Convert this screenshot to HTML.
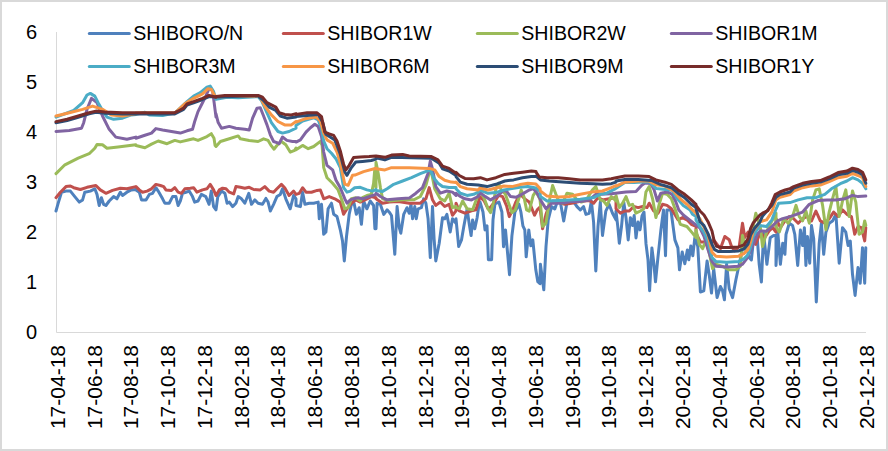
<!DOCTYPE html><html><head><meta charset="utf-8"><style>html,body{margin:0;padding:0;background:#fff;}svg{display:block;font-family:"Liberation Sans",sans-serif;}</style></head><body>
<svg width="888" height="451" viewBox="0 0 888 451">
<rect x="0" y="0" width="888" height="451" fill="#fff"/>
<rect x="1" y="1" width="886" height="449" fill="none" stroke="#d9d9d9" stroke-width="2"/>
<path d="M56.5 32V332.5H866" fill="none" stroke="#d9d9d9" stroke-width="1"/>
<text x="37" y="339.0" font-size="20" text-anchor="end" fill="#000">0</text>
<text x="37" y="289.0" font-size="20" text-anchor="end" fill="#000">1</text>
<text x="37" y="239.0" font-size="20" text-anchor="end" fill="#000">2</text>
<text x="37" y="189.0" font-size="20" text-anchor="end" fill="#000">3</text>
<text x="37" y="139.0" font-size="20" text-anchor="end" fill="#000">4</text>
<text x="37" y="89.0" font-size="20" text-anchor="end" fill="#000">5</text>
<text x="37" y="39.0" font-size="20" text-anchor="end" fill="#000">6</text>
<text transform="translate(64.8,345) rotate(-90)" font-size="21" text-anchor="end" fill="#000">17-04-18</text>
<text transform="translate(101.6,345) rotate(-90)" font-size="21" text-anchor="end" fill="#000">17-06-18</text>
<text transform="translate(138.3,345) rotate(-90)" font-size="21" text-anchor="end" fill="#000">17-08-18</text>
<text transform="translate(175.1,345) rotate(-90)" font-size="21" text-anchor="end" fill="#000">17-10-18</text>
<text transform="translate(211.9,345) rotate(-90)" font-size="21" text-anchor="end" fill="#000">17-12-18</text>
<text transform="translate(248.7,345) rotate(-90)" font-size="21" text-anchor="end" fill="#000">18-02-18</text>
<text transform="translate(285.4,345) rotate(-90)" font-size="21" text-anchor="end" fill="#000">18-04-18</text>
<text transform="translate(322.2,345) rotate(-90)" font-size="21" text-anchor="end" fill="#000">18-06-18</text>
<text transform="translate(359.0,345) rotate(-90)" font-size="21" text-anchor="end" fill="#000">18-08-18</text>
<text transform="translate(395.8,345) rotate(-90)" font-size="21" text-anchor="end" fill="#000">18-10-18</text>
<text transform="translate(432.5,345) rotate(-90)" font-size="21" text-anchor="end" fill="#000">18-12-18</text>
<text transform="translate(469.3,345) rotate(-90)" font-size="21" text-anchor="end" fill="#000">19-02-18</text>
<text transform="translate(506.1,345) rotate(-90)" font-size="21" text-anchor="end" fill="#000">19-04-18</text>
<text transform="translate(542.8,345) rotate(-90)" font-size="21" text-anchor="end" fill="#000">19-06-18</text>
<text transform="translate(579.6,345) rotate(-90)" font-size="21" text-anchor="end" fill="#000">19-08-18</text>
<text transform="translate(616.4,345) rotate(-90)" font-size="21" text-anchor="end" fill="#000">19-10-18</text>
<text transform="translate(653.2,345) rotate(-90)" font-size="21" text-anchor="end" fill="#000">19-12-18</text>
<text transform="translate(689.9,345) rotate(-90)" font-size="21" text-anchor="end" fill="#000">20-02-18</text>
<text transform="translate(726.7,345) rotate(-90)" font-size="21" text-anchor="end" fill="#000">20-04-18</text>
<text transform="translate(763.5,345) rotate(-90)" font-size="21" text-anchor="end" fill="#000">20-06-18</text>
<text transform="translate(800.3,345) rotate(-90)" font-size="21" text-anchor="end" fill="#000">20-08-18</text>
<text transform="translate(837.0,345) rotate(-90)" font-size="21" text-anchor="end" fill="#000">20-10-18</text>
<text transform="translate(873.8,345) rotate(-90)" font-size="21" text-anchor="end" fill="#000">20-12-18</text>
<path d="M56.0 211.0 L58.2 203.2 L61.5 192.2 L66.0 191.1 L70.4 191.1 L74.8 196.6 L79.3 202.1 L82.6 199.9 L84.8 192.2 L90.3 191.1 L94.8 188.8 L97.0 194.4 L99.2 205.5 L101.4 197.7 L103.6 204.3 L105.9 205.5 L109.2 201.0 L113.6 196.6 L116.9 198.8 L120.3 192.2 L122.5 195.5 L126.9 192.2 L131.3 189.9 L135.8 189.5 L136.0 189.9 L139.3 192.2 L141.5 199.9 L146.0 199.9 L149.3 194.4 L152.6 193.3 L155.9 187.7 L158.2 191.1 L162.6 198.8 L164.8 203.2 L169.2 203.2 L172.6 196.6 L175.9 196.6 L178.1 205.5 L180.3 201.0 L182.5 193.3 L185.9 192.2 L189.2 191.1 L192.5 196.6 L194.7 202.1 L198.0 201.0 L201.4 194.4 L205.8 196.6 L209.1 204.3 L211.3 191.1 L213.6 206.6 L216.0 209.9 L216.0 209.9 L217.8 196.6 L221.5 191.1 L224.9 193.3 L227.1 203.2 L229.3 202.1 L232.6 206.6 L235.9 203.2 L238.2 196.6 L241.5 198.8 L244.8 203.2 L248.8 193.3 L251.5 204.3 L254.8 199.9 L258.1 203.2 L262.5 204.3 L265.9 198.4 L268.1 202.1 L270.3 211.0 L273.6 204.3 L276.9 196.6 L280.3 194.4 L282.5 188.8 L285.8 198.8 L290.2 208.8 L293.6 195.5 L296.0 198.8 L296.0 205.5 L300.4 206.6 L302.6 192.2 L304.9 204.3 L309.3 203.2 L313.7 203.2 L318.2 202.1 L319.3 218.8 L321.5 204.3 L323.7 234.3 L325.9 232.0 L328.1 208.8 L331.5 203.2 L333.7 214.3 L337.0 216.5 L340.3 229.8 L342.5 240.9 L344.3 260.9 L346.5 236.5 L349.2 214.3 L351.4 204.3 L354.1 203.2 L356.3 214.3 L359.2 207.7 L361.4 224.3 L363.6 201.0 L366.9 208.8 L370.2 201.0 L373.6 205.5 L374.9 228.7 L376.0 214.3 L376.0 228.8 L377.1 203.3 L380.4 204.4 L383.8 214.4 L387.1 209.9 L389.3 212.2 L391.5 215.5 L393.7 241.0 L394.8 254.3 L397.1 206.6 L399.3 227.7 L400.8 233.2 L403.7 214.4 L407.0 207.7 L409.2 213.3 L411.0 204.4 L412.6 218.8 L414.8 206.6 L416.3 218.8 L418.1 208.8 L421.4 207.7 L423.6 198.9 L425.9 203.3 L428.1 218.8 L430.3 257.6 L432.5 206.6 L434.1 238.8 L435.8 260.9 L439.2 243.2 L442.5 217.7 L444.7 218.8 L446.9 214.4 L450.2 232.1 L452.5 218.8 L456.0 223.2 L456.0 218.8 L458.7 246.5 L461.5 239.9 L463.8 226.6 L467.1 208.9 L469.3 224.4 L471.1 235.5 L472.6 219.9 L474.8 228.8 L477.1 217.7 L479.3 202.2 L480.0 202.0 L483.0 212.0 L485.0 229.9 L487.0 225.9 L488.4 259.8 L491.6 259.8 L493.0 219.9 L494.9 204.0 L498.9 202.0 L501.9 212.0 L503.5 246.8 L505.5 229.9 L509.5 274.7 L511.9 235.9 L514.9 212.0 L518.9 204.0 L520.9 212.0 L522.9 225.9 L524.8 229.9 L526.2 256.8 L528.8 229.9 L530.8 245.8 L532.8 239.9 L535.8 269.8 L537.8 281.7 L540.0 283.7 L540.4 264.3 L543.8 289.8 L546.0 246.5 L548.2 219.9 L551.5 206.6 L554.8 208.9 L557.1 202.2 L560.4 202.2 L563.7 221.1 L567.0 202.2 L571.5 202.2 L574.8 203.3 L577.0 206.6 L580.3 210.0 L583.6 206.6 L585.9 214.4 L589.2 213.3 L591.4 201.1 L593.6 222.2 L595.8 270.9 L598.0 226.6 L600.3 202.2 L602.5 235.5 L605.8 211.1 L609.1 204.4 L612.5 213.3 L616.0 219.9 L616.0 211.1 L617.8 226.6 L619.3 243.2 L621.5 226.6 L623.8 202.2 L626.0 217.7 L628.2 239.9 L630.4 217.7 L632.6 225.5 L634.2 215.5 L636.0 237.9 L638.0 222.0 L640.0 229.9 L642.0 216.0 L644.0 212.0 L646.0 243.9 L648.0 259.8 L649.6 290.7 L651.9 247.9 L653.9 263.8 L655.5 281.8 L657.9 257.8 L660.9 229.9 L663.5 210.0 L665.5 255.8 L666.9 210.0 L670.9 210.0 L674.9 239.9 L677.9 247.9 L679.5 269.8 L682.2 251.9 L684.8 263.8 L687.4 249.9 L688.8 259.8 L690.8 245.9 L692.8 255.8 L694.8 237.9 L696.0 239.9 L697.8 246.6 L700.4 292.0 L703.8 290.9 L707.1 261.0 L709.3 275.4 L711.5 293.1 L713.7 268.8 L717.1 297.6 L720.4 286.5 L722.6 290.9 L724.4 299.8 L726.6 264.3 L729.2 288.7 L732.6 297.6 L735.9 279.8 L739.2 264.3 L742.5 248.8 L745.9 244.4 L749.2 257.7 L751.4 259.9 L754.1 233.3 L756.9 233.3 L759.2 264.3 L761.4 282.0 L763.6 233.3 L766.9 264.3 L770.2 237.7 L773.6 235.5 L776.0 235.5 L776.0 265.4 L777.8 232.2 L780.4 264.3 L782.7 243.3 L784.9 254.3 L786.0 234.4 L789.3 223.3 L792.6 225.5 L794.8 234.4 L797.7 265.4 L800.4 230.0 L802.6 245.5 L804.4 227.7 L805.9 265.4 L807.5 236.6 L809.7 263.2 L811.5 225.5 L813.7 238.8 L816.3 302.0 L819.2 243.3 L821.4 223.3 L823.7 254.3 L825.9 232.2 L829.2 223.3 L832.5 221.1 L835.9 214.4 L839.2 263.2 L842.5 227.7 L845.8 232.2 L848.1 245.5 L850.3 241.0 L852.5 274.3 L855.1 295.4 L858.0 267.6 L860.2 283.2 L862.5 247.7 L864.7 283.2 L865.8 247.7" fill="none" stroke="#4F81BD" stroke-width="3" stroke-linejoin="round" stroke-linecap="round"/>
<path d="M56.0 197.7 L60.4 192.2 L66.0 186.6 L70.4 186.0 L73.7 187.7 L80.4 189.5 L87.0 187.3 L95.9 185.5 L100.3 189.9 L105.9 193.3 L112.5 190.4 L120.3 188.2 L126.9 188.8 L135.8 186.6 L136.0 186.6 L139.3 189.9 L142.6 192.2 L147.1 191.1 L151.5 188.8 L155.9 184.4 L160.4 185.5 L163.7 186.6 L165.9 189.9 L171.5 190.4 L174.8 187.7 L178.1 192.2 L181.4 193.3 L184.8 188.8 L190.3 188.2 L193.6 187.7 L196.9 192.2 L202.5 189.9 L206.9 188.8 L210.2 184.4 L213.6 189.9 L216.0 195.5 L216.0 195.5 L219.3 189.9 L222.6 188.2 L226.0 188.8 L229.3 192.2 L233.7 193.9 L235.9 186.6 L240.4 187.3 L244.8 188.2 L249.2 187.3 L253.7 189.5 L260.3 189.9 L264.8 186.6 L269.2 191.1 L273.6 192.2 L276.9 188.8 L281.4 184.4 L284.7 187.7 L289.1 195.5 L293.6 191.1 L296.0 194.4 L296.0 194.4 L299.3 193.3 L302.6 187.7 L306.0 192.2 L311.5 192.2 L317.1 190.4 L320.4 189.9 L323.7 198.8 L329.2 196.6 L334.8 198.8 L340.3 202.1 L343.6 214.3 L347.0 208.8 L351.4 203.2 L355.8 199.9 L360.3 202.1 L366.9 198.8 L371.3 196.6 L376.0 197.7 L376.0 198.7 L382.6 203.2 L389.3 202.0 L398.2 201.6 L409.2 203.2 L420.3 203.2 L425.9 198.7 L429.2 187.6 L432.5 199.8 L435.8 205.4 L440.3 202.0 L444.7 206.5 L449.1 204.3 L452.5 215.3 L456.0 210.9 L456.0 203.2 L459.3 210.9 L464.9 213.2 L471.5 210.9 L475.9 209.8 L480.0 196.6 L484.0 200.6 L488.0 208.6 L490.6 207.2 L494.6 201.9 L498.6 195.3 L502.6 196.6 L506.6 205.9 L509.3 216.6 L513.3 208.6 L515.9 201.9 L518.6 196.6 L521.2 195.3 L525.2 199.3 L529.2 201.9 L531.9 208.6 L534.5 215.2 L537.2 209.9 L540.0 207.2 L542.6 228.7 L546.0 214.3 L549.3 205.4 L552.6 201.0 L558.2 202.1 L564.8 204.3 L571.5 203.2 L580.3 201.4 L589.2 200.5 L593.6 203.2 L598.0 197.6 L602.5 199.9 L609.1 198.8 L616.0 197.6 L616.0 208.8 L620.4 213.2 L624.9 211.0 L629.3 211.0 L633.7 206.5 L638.2 207.6 L642.6 206.5 L647.0 207.6 L649.2 203.2 L653.7 211.0 L658.1 213.2 L662.5 204.3 L667.0 205.4 L671.4 208.8 L674.7 214.3 L678.0 219.8 L682.5 217.6 L686.9 219.8 L691.3 224.3 L696.0 226.5 L696.0 233.2 L700.4 242.0 L704.9 242.0 L709.3 248.7 L713.7 239.8 L717.1 244.3 L720.4 248.7 L724.8 236.5 L729.2 239.8 L731.5 246.5 L734.8 250.9 L739.2 246.5 L742.5 223.2 L744.8 237.6 L748.1 232.1 L751.4 239.8 L755.8 244.3 L760.3 232.1 L764.7 237.6 L769.1 231.0 L772.5 227.6 L776.0 232.1 L776.0 218.7 L780.4 227.6 L784.9 220.9 L789.3 216.5 L793.7 218.7 L798.2 223.2 L802.6 218.7 L807.0 216.5 L811.5 220.9 L815.9 211.0 L820.3 220.9 L824.8 223.2 L829.2 218.7 L833.6 212.1 L838.1 216.5 L842.5 209.9 L846.9 214.3 L851.4 216.5 L854.7 234.2 L858.0 226.5 L861.4 227.6 L864.7 240.9 L865.8 227.6" fill="none" stroke="#C0504D" stroke-width="3" stroke-linejoin="round" stroke-linecap="round"/>
<path d="M56.0 173.6 L64.9 164.8 L78.2 158.1 L89.2 153.7 L94.8 148.2 L97.0 144.4 L102.5 144.8 L107.0 148.2 L118.0 147.0 L135.8 144.8 L136.0 145.5 L144.9 147.7 L151.5 144.1 L158.2 141.0 L167.0 143.7 L174.8 140.4 L180.3 141.9 L189.2 139.7 L193.6 138.8 L198.0 140.4 L206.9 136.6 L211.3 133.7 L214.0 138.2 L215.1 145.5 L216.0 146.4 L216.0 146.4 L220.4 141.5 L229.3 138.8 L238.2 135.9 L240.4 138.8 L249.2 140.4 L258.1 141.5 L263.6 138.8 L268.1 140.4 L271.4 145.9 L274.1 149.2 L276.9 145.5 L281.4 141.5 L285.8 144.8 L290.2 152.1 L294.7 150.3 L296.0 148.1 L296.0 149.8 L302.6 145.4 L308.2 148.7 L313.7 146.5 L320.4 141.4 L322.1 145.4 L323.7 167.6 L327.0 177.8 L332.6 183.3 L338.1 189.9 L341.4 198.8 L344.8 208.8 L348.1 207.7 L351.4 198.8 L355.8 197.7 L360.3 201.0 L362.5 197.7 L366.9 195.5 L371.3 194.4 L373.6 183.3 L374.7 170.0 L376.0 187.7 L376.0 162.2 L378.2 173.2 L380.4 187.6 L382.6 198.7 L389.3 200.9 L402.6 199.8 L413.7 199.8 L420.3 196.5 L425.9 185.4 L429.2 173.2 L431.4 172.1 L434.7 188.8 L440.3 198.7 L444.7 200.9 L449.1 193.2 L452.5 207.6 L456.0 206.5 L456.0 207.6 L459.3 208.7 L462.6 201.0 L467.1 208.7 L472.6 209.8 L477.1 197.6 L480.0 191.3 L484.0 197.9 L488.0 208.6 L490.6 212.6 L493.3 203.3 L496.0 188.6 L498.6 183.3 L501.3 190.0 L505.3 193.9 L508.6 203.3 L511.9 212.6 L515.3 209.9 L518.6 199.3 L521.2 190.0 L523.9 196.6 L526.6 209.9 L529.2 211.2 L533.2 195.3 L535.9 191.3 L540.0 199.3 L542.6 226.5 L546.0 223.1 L549.3 201.0 L552.6 185.5 L555.9 194.3 L558.2 199.9 L562.6 203.2 L567.0 193.2 L572.6 194.3 L577.0 199.9 L581.4 202.1 L587.0 198.8 L592.5 189.9 L595.8 186.6 L600.3 199.9 L603.6 201.0 L606.9 205.4 L611.3 196.5 L616.0 201.0 L616.0 195.5 L619.3 207.6 L622.6 203.2 L626.0 196.6 L629.3 205.4 L632.6 204.3 L635.9 213.2 L640.4 211.0 L643.7 208.8 L645.9 192.1 L649.2 186.6 L652.6 198.8 L655.9 217.6 L659.2 204.3 L662.5 193.2 L667.0 194.3 L671.4 198.8 L675.8 211.0 L680.3 224.3 L686.9 226.5 L692.5 233.1 L696.0 237.6 L696.0 229.9 L699.3 244.3 L702.6 248.7 L706.0 240.9 L709.3 253.1 L712.6 268.6 L715.9 264.2 L722.6 266.4 L729.2 269.8 L735.9 269.8 L740.3 266.4 L742.5 235.4 L745.9 250.9 L751.4 235.4 L755.8 213.2 L760.3 226.5 L762.5 246.5 L766.9 231.0 L771.3 222.1 L776.0 213.2 L776.0 226.5 L779.3 232.0 L783.8 218.7 L788.2 223.2 L792.6 216.5 L796.0 205.4 L799.3 216.5 L802.6 220.9 L805.9 211.0 L809.3 223.2 L812.6 199.9 L815.9 189.9 L819.2 188.8 L822.6 205.4 L825.9 229.8 L829.2 212.1 L832.5 198.8 L835.9 186.6 L839.2 216.5 L842.5 201.0 L845.8 189.9 L849.2 216.5 L852.5 191.0 L855.8 202.1 L859.1 234.2 L862.5 232.0 L864.7 220.9 L865.8 225.4" fill="none" stroke="#9BBB59" stroke-width="3" stroke-linejoin="round" stroke-linecap="round"/>
<path d="M56.0 131.5 L69.3 130.4 L81.5 128.2 L83.7 122.7 L87.0 109.4 L91.5 98.3 L97.0 102.7 L102.5 116.0 L109.2 129.3 L115.8 137.1 L126.9 139.3 L135.8 137.1 L136.0 138.2 L144.9 135.3 L151.5 133.1 L155.9 128.6 L162.6 130.0 L171.5 131.5 L180.3 133.1 L187.0 130.8 L192.5 129.3 L194.7 121.5 L198.0 111.6 L202.5 102.7 L205.8 96.1 L209.1 88.3 L212.5 90.5 L214.0 101.6 L216.0 117.1 L216.0 113.8 L218.2 122.6 L221.5 128.2 L229.3 126.4 L235.9 128.2 L244.8 129.3 L249.2 130.0 L252.6 118.2 L257.0 108.2 L260.3 107.8 L263.6 116.0 L267.0 124.9 L270.3 134.8 L273.6 141.5 L276.9 142.6 L279.2 143.7 L282.5 137.0 L286.9 140.4 L292.5 141.5 L296.0 141.5 L296.0 142.1 L300.4 139.9 L306.0 132.1 L310.4 127.7 L314.8 124.3 L318.2 126.6 L321.5 136.5 L323.7 152.0 L327.0 165.3 L332.6 169.8 L335.9 180.0 L340.3 187.7 L344.8 198.8 L347.0 203.2 L350.3 199.9 L353.6 198.8 L358.0 197.7 L362.5 198.8 L369.1 196.6 L376.0 194.4 L376.0 193.2 L380.4 196.5 L387.1 199.8 L398.2 198.7 L409.2 198.1 L415.9 193.2 L422.5 187.6 L428.1 173.2 L430.3 161.1 L432.5 168.8 L435.8 186.5 L440.3 193.2 L446.9 191.0 L452.5 192.1 L456.0 195.4 L456.0 193.2 L460.4 196.5 L464.9 198.8 L471.5 199.9 L478.2 196.5 L480.0 192.6 L485.3 196.6 L490.6 199.9 L497.3 195.9 L503.3 190.6 L506.6 191.3 L510.6 196.6 L515.9 197.3 L522.6 193.9 L529.2 190.0 L533.2 188.6 L537.2 193.3 L540.0 198.6 L540.4 199.9 L546.0 208.7 L551.5 203.2 L558.2 203.2 L564.8 202.7 L571.5 201.4 L580.3 201.4 L589.2 199.9 L595.8 194.3 L600.0 194.3 L611.3 193.7 L625.9 192.0 L636.0 191.5 L641.7 185.3 L645.0 183.0 L650.7 183.6 L654.1 189.8 L657.4 201.0 L660.8 193.2 L667.6 192.0 L672.1 194.3 L675.5 201.0 L678.8 210.0 L683.3 215.0 L700.0 228.1 L704.0 236.3 L708.0 249.6 L712.0 261.6 L716.0 266.2 L726.6 266.9 L738.6 266.2 L742.6 264.2 L746.6 258.9 L749.9 252.2 L753.2 244.3 L757.2 235.0 L760.0 231.0 L766.6 231.2 L771.9 226.5 L777.2 221.2 L782.6 218.6 L790.0 216.6 L793.7 215.4 L802.6 212.1 L809.3 204.3 L818.1 200.5 L827.0 199.9 L835.9 199.9 L844.7 198.8 L852.5 195.4 L858.0 196.6 L865.8 196.1" fill="none" stroke="#8064A2" stroke-width="3" stroke-linejoin="round" stroke-linecap="round"/>
<path d="M56.0 117.1 L73.7 110.5 L82.6 102.7 L87.0 95.0 L90.3 93.4 L94.8 96.1 L98.1 102.7 L102.5 110.5 L107.0 117.1 L113.6 119.3 L122.5 118.2 L131.3 114.9 L136.0 114.4 L144.9 112.2 L149.3 114.9 L162.6 115.6 L174.8 113.1 L183.6 104.9 L187.0 101.6 L193.6 96.1 L200.3 92.7 L206.9 87.2 L210.2 86.1 L213.6 91.6 L216.0 99.4 L216.0 99.4 L227.1 97.2 L238.2 97.8 L258.1 96.5 L261.4 100.5 L265.9 110.5 L271.4 122.6 L278.0 131.5 L282.5 133.1 L289.1 131.5 L296.0 128.2 L296.0 125.5 L302.6 121.0 L313.7 117.7 L318.2 119.9 L321.5 128.8 L323.7 141.0 L327.0 148.7 L331.5 153.2 L335.9 158.7 L340.3 167.6 L343.6 187.7 L347.0 192.2 L350.3 191.1 L354.7 187.7 L360.3 187.3 L366.9 189.9 L372.5 191.1 L376.0 189.5 L376.0 190.5 L382.6 191.4 L387.1 188.8 L393.7 184.3 L402.6 181.0 L411.5 177.7 L420.3 173.7 L430.3 169.9 L433.6 177.7 L438.0 183.2 L442.5 186.5 L449.1 187.6 L456.0 187.6 L456.0 188.8 L460.4 193.2 L467.1 195.4 L473.7 194.3 L478.2 192.1 L480.0 190.0 L488.0 193.3 L496.0 192.6 L503.9 190.0 L511.9 188.6 L519.9 187.3 L527.9 186.6 L535.9 188.0 L540.0 191.3 L540.4 196.5 L547.1 201.0 L558.2 200.5 L569.2 199.9 L580.3 199.2 L593.6 197.6 L600.0 194.3 L606.8 193.2 L614.6 189.2 L624.8 182.5 L633.8 182.5 L642.8 181.9 L649.5 181.9 L656.3 188.6 L663.1 189.2 L672.1 190.3 L676.6 197.7 L683.3 205.5 L690.1 210.0 L692.5 214.3 L696.0 216.5 L696.0 219.9 L700.0 227.0 L704.0 232.3 L708.0 241.6 L712.0 257.6 L716.0 261.6 L726.6 262.2 L738.6 261.6 L743.9 258.9 L747.9 254.9 L750.6 246.9 L753.2 236.3 L757.2 229.6 L760.0 225.6 L766.6 226.5 L771.9 219.9 L775.9 209.3 L778.6 203.3 L790.0 202.6 L798.2 199.9 L807.0 197.7 L815.9 197.7 L824.8 194.3 L831.4 188.8 L840.3 183.7 L846.9 181.0 L852.5 177.7 L858.0 179.9 L862.5 183.3 L865.8 188.8" fill="none" stroke="#4BACC6" stroke-width="3" stroke-linejoin="round" stroke-linecap="round"/>
<path d="M56.0 116.0 L69.3 112.7 L82.6 109.4 L92.6 106.1 L102.5 109.4 L111.4 114.9 L122.5 116.0 L135.8 113.8 L136.0 113.1 L174.8 113.1 L184.8 103.8 L193.6 98.3 L202.5 93.8 L208.0 88.7 L211.3 89.4 L213.6 93.8 L216.0 97.2 L216.0 96.7 L258.1 96.1 L260.3 97.2 L264.8 106.0 L271.4 114.9 L278.0 121.5 L284.7 124.9 L291.3 124.9 L296.0 121.5 L296.0 122.1 L304.9 118.8 L315.9 117.0 L320.4 121.0 L323.7 133.2 L327.0 139.9 L332.6 143.2 L337.0 152.0 L340.3 163.1 L344.8 184.2 L348.1 185.3 L352.5 175.3 L354.9 175.1 L363.6 171.6 L376.0 168.2 L376.0 168.8 L384.9 169.9 L391.5 167.7 L409.2 167.7 L429.2 168.4 L434.7 169.9 L439.2 176.6 L444.7 180.3 L451.3 182.1 L456.0 182.5 L456.0 182.1 L460.4 186.6 L467.1 188.8 L478.2 189.9 L480.0 188.0 L488.0 190.0 L496.0 188.0 L503.9 186.0 L511.9 186.6 L519.9 184.6 L527.9 183.3 L535.9 184.0 L540.0 188.6 L540.4 191.0 L547.1 196.1 L558.2 197.0 L569.2 196.5 L580.3 194.3 L591.4 192.1 L602.5 191.0 L611.3 187.7 L616.0 185.5 L616.0 186.1 L624.9 182.2 L638.2 181.1 L649.2 181.1 L655.9 184.8 L664.8 186.1 L673.6 191.0 L680.3 198.8 L686.9 204.3 L692.5 209.9 L696.0 213.2 L696.0 213.2 L700.0 219.0 L704.0 227.0 L708.0 235.0 L712.0 252.2 L716.0 256.2 L726.6 256.9 L738.6 256.2 L743.9 253.6 L747.9 249.6 L750.6 241.6 L753.2 231.0 L757.2 225.6 L760.0 221.7 L766.6 219.9 L771.9 211.9 L775.9 199.9 L779.9 197.3 L790.0 194.6 L793.7 191.0 L802.6 187.7 L811.5 185.9 L820.3 185.0 L829.2 181.5 L838.1 177.7 L846.9 176.2 L852.5 173.3 L858.0 175.5 L862.5 177.7 L865.8 186.6" fill="none" stroke="#F79646" stroke-width="3" stroke-linejoin="round" stroke-linecap="round"/>
<path d="M56.0 122.8 L67.1 120.5 L78.2 117.2 L89.2 113.9 L95.9 112.3 L104.8 113.2 L122.5 113.9 L135.8 113.9 L136.0 113.9 L174.8 113.9 L179.2 111.7 L183.6 109.4 L187.0 105.0 L193.6 102.8 L202.5 99.5 L209.1 96.6 L216.0 96.9 L258.1 95.8 L263.6 100.5 L269.2 107.1 L275.8 110.5 L280.3 116.0 L286.9 118.2 L296.0 117.1 L296.0 116.6 L318.2 114.4 L322.6 122.1 L325.9 134.3 L334.8 139.9 L340.3 154.3 L344.8 172.0 L347.0 175.3 L351.4 167.6 L355.8 162.0 L362.5 161.4 L371.3 160.5 L376.0 159.1 L376.0 157.7 L384.9 159.9 L391.5 157.3 L431.4 158.2 L439.2 163.3 L442.5 168.8 L449.1 171.0 L456.0 175.5 L456.0 176.6 L460.4 182.1 L467.1 184.3 L478.2 185.0 L487.0 186.6 L495.9 184.3 L504.8 181.0 L513.6 179.9 L522.5 177.7 L531.3 176.6 L536.0 176.6 L536.0 176.1 L540.4 179.9 L549.3 181.0 L562.6 182.1 L580.3 183.2 L593.6 183.7 L602.5 184.3 L611.3 183.7 L616.0 182.1 L616.0 181.1 L624.9 179.5 L638.2 179.5 L651.5 180.4 L660.3 184.4 L671.4 187.7 L678.0 193.2 L684.7 197.7 L691.3 204.3 L696.0 207.6 L696.0 208.8 L700.0 221.7 L704.0 225.6 L708.0 233.6 L712.0 244.3 L714.6 249.6 L718.6 251.6 L729.3 251.6 L738.6 250.9 L743.9 248.9 L747.9 244.3 L750.6 235.0 L754.5 228.3 L760.0 221.7 L762.6 215.9 L771.9 205.3 L775.9 197.3 L779.9 194.6 L790.0 192.0 L793.7 188.1 L802.6 185.0 L811.5 183.3 L820.3 182.1 L829.2 178.8 L838.1 174.8 L846.9 173.3 L852.5 170.4 L858.0 172.2 L862.5 174.8 L865.8 183.3" fill="none" stroke="#2C4D75" stroke-width="3" stroke-linejoin="round" stroke-linecap="round"/>
<path d="M56.0 121.6 L67.1 119.3 L78.2 116.0 L89.2 112.7 L95.9 111.1 L104.8 112.0 L122.5 112.7 L135.8 112.7 L136.0 112.7 L174.8 112.7 L179.2 110.5 L183.6 108.2 L187.0 103.8 L193.6 101.6 L202.5 98.3 L209.1 95.4 L216.0 97.2 L216.0 96.5 L224.9 95.6 L238.2 95.4 L258.1 95.4 L262.5 97.2 L267.0 102.7 L271.4 104.9 L275.8 107.1 L279.2 112.7 L284.7 114.4 L291.3 114.9 L296.0 113.8 L296.0 114.4 L307.1 112.8 L317.1 112.8 L321.5 116.6 L324.8 132.1 L329.2 133.9 L333.7 135.4 L337.0 141.0 L340.3 150.9 L343.6 164.2 L345.9 169.8 L349.2 165.3 L353.6 157.6 L360.3 156.9 L369.1 156.5 L376.0 156.0 L376.0 156.0 L384.9 157.3 L391.5 155.1 L402.6 154.4 L409.2 156.0 L420.3 156.2 L431.4 156.6 L438.0 159.9 L442.5 166.1 L449.1 168.4 L456.0 173.2 L456.0 172.2 L459.3 175.5 L464.9 178.4 L473.7 178.8 L480.4 177.7 L487.0 179.9 L495.9 177.7 L504.8 174.4 L513.6 173.3 L522.5 172.2 L531.3 171.1 L536.0 171.5 L536.0 172.2 L539.3 177.0 L547.1 177.7 L558.2 177.7 L569.2 178.8 L580.3 179.9 L591.4 179.9 L602.5 179.9 L611.3 178.8 L616.0 177.7 L616.0 177.7 L624.9 176.0 L638.2 176.0 L649.2 176.6 L655.9 179.9 L664.8 182.2 L671.4 184.4 L678.0 189.9 L684.7 194.3 L691.3 199.9 L696.0 204.3 L696.0 205.5 L700.0 211.0 L704.0 215.0 L708.0 221.7 L712.0 231.0 L714.0 240.3 L716.6 246.3 L721.3 247.6 L729.3 247.6 L738.6 246.9 L743.9 244.9 L747.9 238.9 L750.6 228.3 L753.2 223.0 L755.9 219.7 L760.0 215.0 L762.6 213.2 L767.9 210.6 L771.9 202.6 L775.2 194.6 L779.9 192.0 L785.2 190.0 L790.0 188.6 L793.7 186.6 L802.6 183.3 L811.5 181.5 L820.3 180.6 L829.2 177.0 L838.1 172.6 L846.9 171.1 L852.5 168.2 L858.0 169.5 L862.5 172.2 L865.8 179.9" fill="none" stroke="#772C2A" stroke-width="3" stroke-linejoin="round" stroke-linecap="round"/>
<line x1="89.3" y1="33.5" x2="129.3" y2="33.5" stroke="#4F81BD" stroke-width="3" stroke-linecap="round"/>
<text x="133.3" y="39.5" font-size="19.6" fill="#000">SHIBORO/N</text>
<line x1="283.3" y1="33.5" x2="323.3" y2="33.5" stroke="#C0504D" stroke-width="3" stroke-linecap="round"/>
<text x="327.3" y="39.5" font-size="19.6" fill="#000">SHIBOR1W</text>
<line x1="477.3" y1="33.5" x2="517.3" y2="33.5" stroke="#9BBB59" stroke-width="3" stroke-linecap="round"/>
<text x="521.3" y="39.5" font-size="19.6" fill="#000">SHIBOR2W</text>
<line x1="671.3" y1="33.5" x2="711.3" y2="33.5" stroke="#8064A2" stroke-width="3" stroke-linecap="round"/>
<text x="715.3" y="39.5" font-size="19.6" fill="#000">SHIBOR1M</text>
<line x1="89.3" y1="66.5" x2="129.3" y2="66.5" stroke="#4BACC6" stroke-width="3" stroke-linecap="round"/>
<text x="133.3" y="72.5" font-size="19.6" fill="#000">SHIBOR3M</text>
<line x1="283.3" y1="66.5" x2="323.3" y2="66.5" stroke="#F79646" stroke-width="3" stroke-linecap="round"/>
<text x="327.3" y="72.5" font-size="19.6" fill="#000">SHIBOR6M</text>
<line x1="477.3" y1="66.5" x2="517.3" y2="66.5" stroke="#2C4D75" stroke-width="3" stroke-linecap="round"/>
<text x="521.3" y="72.5" font-size="19.6" fill="#000">SHIBOR9M</text>
<line x1="671.3" y1="66.5" x2="711.3" y2="66.5" stroke="#772C2A" stroke-width="3" stroke-linecap="round"/>
<text x="715.3" y="72.5" font-size="19.6" fill="#000">SHIBOR1Y</text>
</svg></body></html>
